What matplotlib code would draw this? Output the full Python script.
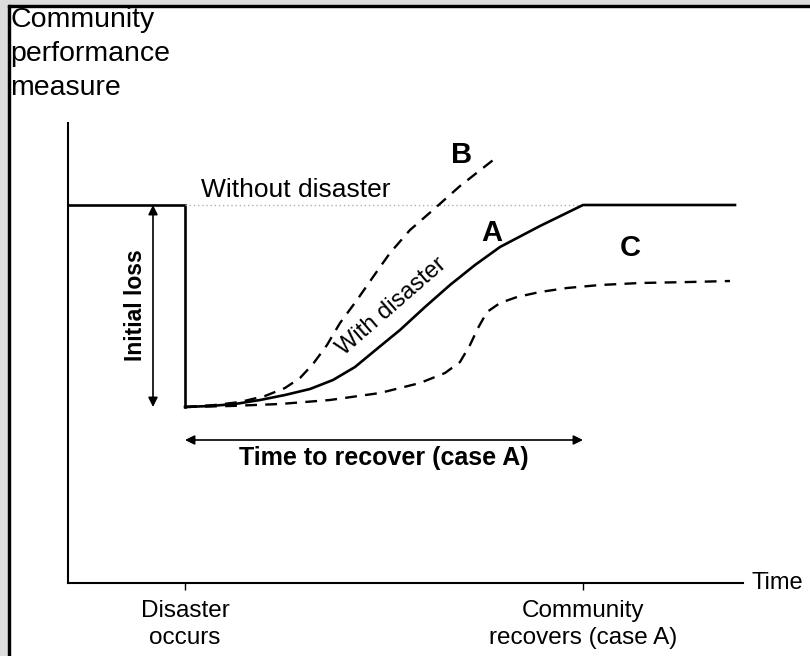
import matplotlib
matplotlib.use("Agg")
import matplotlib.pyplot as plt
from matplotlib.patches import Rectangle

plt.rcParams['font.family'] = ['Liberation Sans', 'DejaVu Sans']

# Values (time, performance) in arbitrary units
t_disaster = 117
t_recover = 515
level_normal = 378
level_low = 176

# Case A: recovery with disaster (solid)
a_time = [117, 142, 167, 192, 217, 242, 265, 287, 310, 332, 357, 382, 407, 432, 472, 515, 667]
a_perf = [176, 177, 179, 183, 188, 194, 203, 216, 235, 253, 276, 298, 318, 336, 357, 378, 378]

# Case B: faster recovery (dashed)
b_time = [117, 147, 172, 197, 217, 232, 245, 259, 272, 289, 305, 322, 342, 365, 392, 429]
b_perf = [176, 178, 181, 187, 195, 205, 219, 238, 260, 283, 306, 330, 353, 373, 397, 426]

# Case C: incomplete recovery (dashed)
c_time = [117, 162, 212, 262, 312, 352, 377, 392, 402, 410, 419, 432, 449, 472, 499, 532, 572, 622, 662]
c_perf = [176, 177, 179, 183, 190, 200, 210, 221, 238, 255, 271, 280, 286, 291, 295, 298, 300, 301, 302]

tick_pos = [t_disaster, t_recover]
tick_labels = ["Disaster\noccurs", "Community\nrecovers (case A)"]

W, H = 810, 656
fig = plt.figure(figsize=(W / 100, H / 100), dpi=100)

# screenshot frame on the left and top
fig.patches.append(Rectangle((0, 0), 8 / W, 1, transform=fig.transFigure, color="#dcdcdc", zorder=0))
fig.patches.append(Rectangle((0, 1 - 5 / H), 1, 5 / H, transform=fig.transFigure, color="#dcdcdc", zorder=0))
fig.patches.append(Rectangle((8 / W, 0), 2 / W, 1 - 5 / H, transform=fig.transFigure, color="black", zorder=1))
fig.patches.append(Rectangle((8 / W, 1 - 7 / H), 1, 2 / H, transform=fig.transFigure, color="black", zorder=1))

ax = fig.add_axes([68 / W, 73 / H, 675 / W, 460 / H])
ax.set_xlim(0, 675)
ax.set_ylim(0, 460)
for s in ["top", "right"]:
    ax.spines[s].set_visible(False)
for s in ["left", "bottom"]:
    ax.spines[s].set_linewidth(1.5)
ax.set_yticks([])
ax.set_xticks(tick_pos, labels=tick_labels, fontsize=17.5)
ax.tick_params(axis="x", length=5, width=1, pad=7)
for lbl in ax.get_xticklabels():
    lbl.set_linespacing(1.3)

# before the disaster and the drop
ax.plot([0, t_disaster, t_disaster], [level_normal, level_normal, level_low],
        color="black", lw=1.9, solid_joinstyle="miter")
ax.plot([t_disaster, t_recover], [level_normal, level_normal],
        color="#b0b0b0", lw=1, ls=(0, (1, 2)))

ax.plot(a_time, a_perf, color="black", lw=1.9, solid_joinstyle="round")
ax.plot(b_time, b_perf, color="black", lw=1.7, ls=(0, (5, 3.5)))
ax.plot(c_time, c_perf, color="black", lw=1.7, ls=(0, (5, 3.5)))

arrow = dict(arrowstyle="<|-|>", color="black", lw=1.2, mutation_scale=14,
             shrinkA=0, shrinkB=0)
ax.annotate("", xy=(85, level_low), xytext=(85, level_normal), arrowprops=arrow)
ax.annotate("", xy=(t_recover, 143), xytext=(t_disaster, 143), arrowprops=arrow)

ax.text(67, 278, "Initial loss", rotation=90, fontsize=16.5, fontweight="bold",
        ha="center", va="center")
ax.text(316, 125, "Time to recover (case A)", fontsize=18, fontweight="bold",
        ha="center", va="center")
ax.text(228, 393, "Without disaster", fontsize=19, ha="center", va="center")
ax.text(324, 276, "With disaster", fontsize=17, rotation=41,
        ha="center", va="center", rotation_mode="anchor")
ax.text(394, 428, "B", fontsize=21, fontweight="bold", ha="center", va="center")
ax.text(424, 350, "A", fontsize=21, fontweight="bold", ha="center", va="center")
ax.text(562, 335, "C", fontsize=21, fontweight="bold", ha="center", va="center")
ax.text(684, 0, "Time", fontsize=17, ha="left", va="center", clip_on=False)

fig.text(10 / W, 1 - 7 / H, "Community\nperformance\nmeasure", fontsize=20.5,
         ha="left", va="top", linespacing=1.4)

fig.savefig("out.png", dpi=100)
